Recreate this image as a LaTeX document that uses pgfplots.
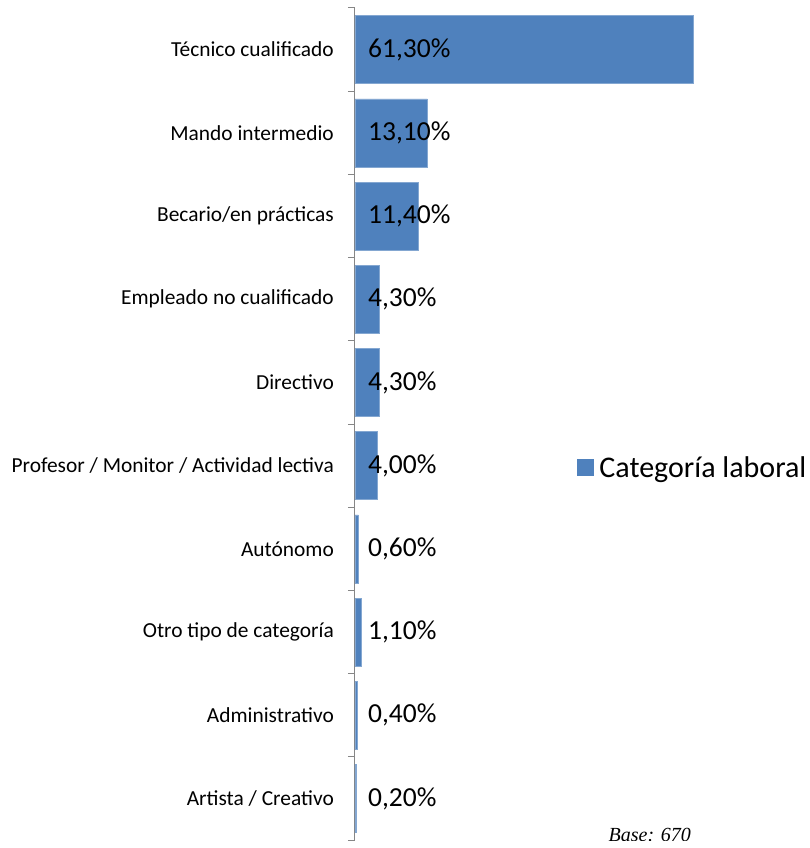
\documentclass[border=0pt]{standalone}
\usepackage{pgfplots}
\pgfplotsset{compat=1.18}
\usepackage{fontspec}
\setmainfont{Carlito}
\newfontfamily\basefont{Liberation Serif}

\definecolor{barblue}{HTML}{4F81BD}
\definecolor{axisgray}{HTML}{868686}

\begin{document}
\begin{tikzpicture}
\useasboundingbox (-355pt,-8pt) rectangle (455pt,840pt);
\begin{axis}[
    scale only axis,
    width=442pt, height=832pt,
    xmin=0, xmax=80,
    ymin=0.5, ymax=10.5,
    y dir=reverse,
    axis x line=none,
    axis y line=left,
    y axis line style={-, draw=axisgray, line width=1pt},
    ytick={1,...,10},
    yticklabels={T\'ecnico cualificado, Mando intermedio, Becario/en pr\'acticas,
        Empleado no cualificado, Directivo, Profesor / Monitor / Actividad lectiva,
        Aut\'onomo, Otro tipo de categor\'ia, Administrativo, Artista / Creativo},
    yticklabel style={font=\fontsize{21.4}{24}\selectfont, inner sep=0pt, xshift=-21pt},
    major tick length=0pt,
    minor ytick={0.5,1.5,...,10.5},
    minor tick length=7pt,
    tick align=outside,
    minor tick style={draw=axisgray, line width=1pt},
    legend style={at={(0.502,0.448)}, anchor=west, draw=none, fill=none,
        font=\fontsize{30}{34}\selectfont, inner sep=0pt,
        nodes={inner sep=0pt, text depth=0pt}},
    legend image code/.code={\fill[barblue] (0pt,-8pt) rectangle (16pt,8pt);},
    legend cell align=left,
]
\addplot[xbar, bar width=68pt, fill=barblue, draw=barblue!70!white] coordinates {
    (61.3,1)
    (13.1,2)
    (11.4,3)
    (4.3,4)
    (4.3,5)
    (4.0,6)
    (0.6,7)
    (1.1,8)
    (0.4,9)
    (0.2,10)
};
\addlegendentry{\hspace{6pt}Categoría laboral}

\addplot[forget plot, draw=none, mark=none,
    nodes near coords, point meta=explicit symbolic,
    nodes near coords style={anchor=west, inner sep=0pt,
        font=\fontsize{27.5}{30}\selectfont}] coordinates {
    (2.35,1) [61,30\%]
    (2.35,2) [13,10\%]
    (2.35,3) [11,40\%]
    (2.35,4) [4,30\%]
    (2.35,5) [4,30\%]
    (2.35,6) [4,00\%]
    (2.35,7) [0,60\%]
    (2.35,8) [1,10\%]
    (2.35,9) [0,40\%]
    (2.35,10) [0,20\%]
};

\node[anchor=center, font=\basefont\itshape\fontsize{20}{23}\selectfont]
    at ([yshift=5pt]rel axis cs:0.667,0) {Base: 670};
\end{axis}
\end{tikzpicture}
\end{document}
